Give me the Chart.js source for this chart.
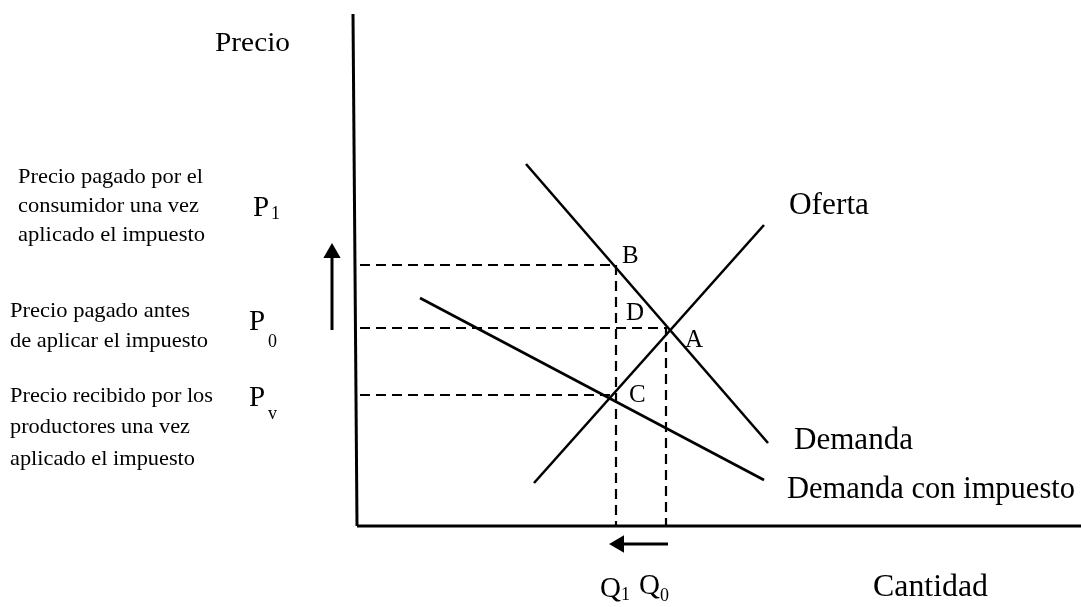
<!DOCTYPE html>
<html>
<head>
<meta charset="utf-8">
<script src="https://cdn.jsdelivr.net/npm/chart.js@4/dist/chart.umd.min.js"></script>
<style>
  body { margin: 0; background: #fff; }
  #wrap { width: 1081px; height: 607px; }
</style>
</head>
<body>
<div id="wrap"><canvas id="tax-chart" width="1081" height="607"></canvas></div>
<script>
// Curves (cantidad, precio) endpoints
const demandaQ = [16.9, 41.1];
const demandaP = [36.2, 8.3];
const ofertaQ = [17.7, 40.7];
const ofertaP = [4.3, 30.1];
const impuestoQ = [6.3, 40.7];
const impuestoP = [22.8, 4.6];

// Reference levels
const precioNames = ['P1', 'P0', 'Pv'];
const precioValues = [26.1, 19.8, 13.1];
const cantidadNames = ['Q1', 'Q0'];
const cantidadValues = [25.9, 30.9];

// Axis extent
const axisQ = [0, 72.4];
const axisP = [0, 51.2];

function pts(qs, ps) {
    return qs.map((q, i) => ({ x: q, y: ps[i] }));
}

function line(data, width, dash) {
    return {
        data: data,
        showLine: true,
        borderColor: '#000',
        backgroundColor: '#000',
        borderWidth: width,
        borderDash: dash || [],
        pointRadius: 0,
        tension: 0
    };
}

const P1 = precioValues[0], P0 = precioValues[1], Pv = precioValues[2];
const Q1 = cantidadValues[0], Q0 = cantidadValues[1];
const dash = [10, 6];

const datasets = [
    line([{ x: axisQ[0] - 0.4, y: axisP[1] }, { x: axisQ[0], y: axisP[0] }], 3),
    line([{ x: axisQ[0], y: axisP[0] }, { x: axisQ[1], y: axisP[0] }], 3),
    line(pts(demandaQ, demandaP), 2.6),
    line(pts(ofertaQ, ofertaP), 2.6),
    line(pts(impuestoQ, impuestoP), 2.6),
    // dashed guides
    line([{ x: 0.3, y: P1 }, { x: Q1, y: P1 }, { x: Q1, y: 0 }], 2.2, dash),
    line([{ x: 0.3, y: P0 }, { x: Q0, y: P0 }, { x: Q0, y: 0 }], 2.2, dash),
    line([{ x: 0.3, y: Pv }, { x: Q1 - 0.4, y: Pv }], 2.2, dash)
];

// arrows
const upArrow = line([{ x: -2.5, y: P0 - 0.2 }, { x: -2.5, y: P1 + 1.2 }], 3);
upArrow.pointRadius = [0, 7];
upArrow.pointStyle = 'triangle';
upArrow.pointRotation = [0, 0];
datasets.push(upArrow);

const leftArrow = line([{ x: Q0 + 0.2, y: -1.8 }, { x: Q1 + 0.3, y: -1.8 }], 3);
leftArrow.pointRadius = [0, 7];
leftArrow.pointStyle = 'triangle';
leftArrow.pointRotation = [0, 270];
datasets.push(leftArrow);

const serif = '"Liberation Serif", "Times New Roman", serif';

function fitText(ctx, text, x, y, size, width) {
    ctx.save();
    ctx.font = size + 'px ' + serif;
    const w = ctx.measureText(text).width;
    ctx.translate(x, y);
    ctx.scale(width / w, 1);
    ctx.fillText(text, 0, 0);
    ctx.restore();
}

function sub(ctx, main, s, x, y, size, sx, sy) {
    ctx.font = size + 'px ' + serif;
    ctx.fillText(main, x, y);
    ctx.font = Math.round(size * 0.62) + 'px ' + serif;
    ctx.fillText(s, x + sx, y + sy);
}

const labelsPlugin = {
    id: 'labels',
    afterDatasetsDraw(chart) {
        const ctx = chart.ctx;
        const xs = chart.scales.x, ys = chart.scales.y;
        ctx.save();
        ctx.fillStyle = '#000';
        ctx.textBaseline = 'middle';
        ctx.textAlign = 'left';

        fitText(ctx, 'Precio', 215, 44, 27, 75);

        const left = [
            ['Precio pagado por el', 18, 177, 185],
            ['consumidor una vez', 18, 206, 181],
            ['aplicado el impuesto', 18, 235, 187],
            ['Precio pagado antes', 10, 311, 180],
            ['de aplicar el impuesto', 10, 341, 198],
            ['Precio recibido por los', 10, 396, 203],
            ['productores una vez', 10, 427, 180],
            ['aplicado el impuesto', 10, 459, 185]
        ];
        left.forEach(l => fitText(ctx, l[0], l[1], l[2], 21, l[3]));

        // price names
        sub(ctx, 'P', '1', 253, 208, 29, 18, 6);
        sub(ctx, 'P', '0', 249, 322, 29, 19, 20);
        sub(ctx, 'P', 'v', 249, 398, 29, 19, 16);

        // point letters
        const bx = xs.getPixelForValue(Q1), by = ys.getPixelForValue(P1);
        const ax = xs.getPixelForValue(Q0), ay = ys.getPixelForValue(P0);
        const cy = ys.getPixelForValue(Pv);
        ctx.font = '25px ' + serif;
        ctx.fillText('B', bx + 6, by - 9);
        ctx.fillText('D', bx + 10, by + 48);
        ctx.fillText('A', ax + 19, ay + 12);
        ctx.fillText('C', bx + 13, cy);

        fitText(ctx, 'Oferta', 789, 206, 31, 80);
        fitText(ctx, 'Demanda', 794, 441, 31, 119);
        fitText(ctx, 'Demanda con impuesto', 787, 490, 31, 288);
        fitText(ctx, 'Cantidad', 873, 588, 31, 115);

        // quantity names
        const q1x = xs.getPixelForValue(Q1), q0x = xs.getPixelForValue(Q0);
        sub(ctx, 'Q', '1', q1x - 16, 589, 29, 21, 6);
        sub(ctx, 'Q', '0', q0x - 27, 586, 29, 21, 10);
        ctx.restore();
    }
};

new Chart(document.getElementById('tax-chart').getContext('2d'), {
    type: 'scatter',
    data: { datasets: datasets },
    options: {
        responsive: false,
        animation: false,
        layout: { padding: 0, autoPadding: false },
        plugins: { legend: { display: false }, tooltip: { enabled: false } },
        scales: {
            x: { type: 'linear', display: false, min: -35.7, max: 72.4 },
            y: { type: 'linear', display: false, min: -8.1, max: 52.6 }
        }
    },
    plugins: [labelsPlugin]
});
</script>
</body>
</html>
